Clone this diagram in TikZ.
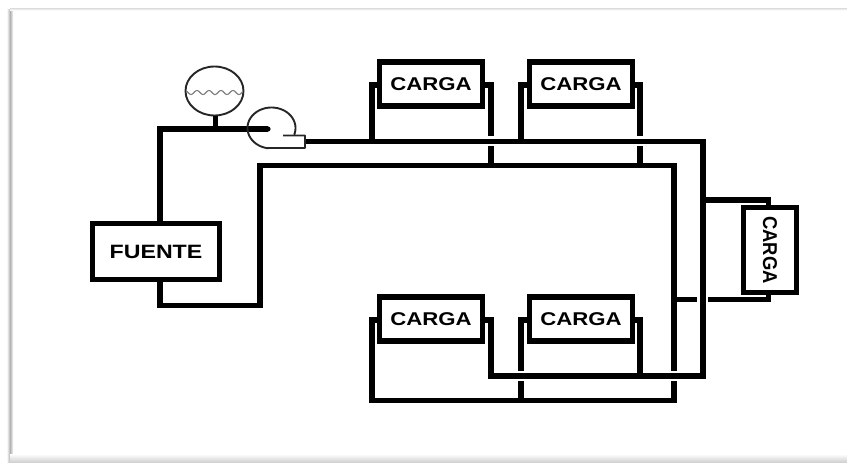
\documentclass[tikz,border=0pt]{standalone}
\usepackage{fontspec}
\newfontfamily\labfont[FakeStretch=1.2]{Liberation Sans}
\newfontfamily\sidefont[FakeStretch=0.92]{Liberation Sans}
\usetikzlibrary{shapes.geometric}
\tikzset{
  wire/.style={line width=5.2pt,line join=miter,line cap=butt},
  thin line/.style={line width=1.9pt,black!85},
  loadbox/.style={draw,line width=5.2pt,outer sep=0pt,inner sep=0pt,fill=white,minimum width=103pt,minimum height=44pt,font=\labfont\bfseries\fontsize{18.5}{20}\selectfont}
}
\begin{document}
\begin{tikzpicture}[x=1pt,y=-1pt]
\path[use as bounding box,fill=white] (0,0) rectangle (847,463);
% soft page frame
\fill[left color=black!3,right color=black!30] (7,9) rectangle (10,463);
\fill[left color=black!30,right color=black!4] (10,9) rectangle (13,463);
\fill[bottom color=black!2,top color=black!14] (10,8) rectangle (847,10);
\fill[top color=white,bottom color=black!20] (10,454) rectangle (847,463);
% junction coordinates
\coordinate (supply) at (305,141.5);
\coordinate (sr) at (703,141.5);
\coordinate (sb) at (703,376);
\coordinate (rl) at (260,165.5);
\coordinate (rr) at (674,165.5);
\coordinate (rg) at (674,371);
\coordinate (rh) at (674,381);
\coordinate (f1) at (160,129);
\coordinate (pin) at (268,129);
\coordinate (f2) at (160,305.5);
\coordinate (f3) at (260,305.5);
\coordinate (t1) at (215.5,129);
% load stubs
\coordinate (a1) at (372,85);   \coordinate (a1m) at (372,141.5);
\coordinate (a2) at (491,85);   \coordinate (a2g) at (491,136); \coordinate (a2h) at (491,146); \coordinate (a2r) at (491,165.5);
\coordinate (b1) at (521,85);   \coordinate (b1m) at (521,141.5);
\coordinate (b2) at (640,85);   \coordinate (b2g) at (640,136); \coordinate (b2h) at (640,146); \coordinate (b2r) at (640,165.5);
\coordinate (c1) at (372,320);  \coordinate (c1r) at (372,400.5);
\coordinate (c2) at (491,320);  \coordinate (c2m) at (491,376);
\coordinate (d1) at (521,320);  \coordinate (d1g) at (521,371); \coordinate (d1h) at (521,381); \coordinate (d1r) at (521,400.5);
\coordinate (d2) at (640,320);  \coordinate (d2m) at (640,376);
\coordinate (rb) at (674,400.5);
\coordinate (e1m) at (703,200);  \coordinate (e1) at (768.5,200); \coordinate (e1b) at (768.5,210);
\coordinate (e2r) at (674,299.5); \coordinate (e2g) at (697,299.5); \coordinate (e2h) at (708,299.5); \coordinate (e2) at (768.5,299.5); \coordinate (e2b) at (768.5,290);
% load and source boxes
\node[loadbox] (L1) at (431,84) {CARGA};
\node[loadbox] (L2) at (581,84) {CARGA};
\node[loadbox] (L3) at (431,319) {CARGA};
\node[loadbox] (L4) at (581,319) {CARGA};
\node[loadbox,rotate=-90,minimum width=85pt,minimum height=53pt,font=\sidefont\bfseries\fontsize{20}{22}\selectfont] (L5) at (770,250) {CARGA};
\node[loadbox,minimum width=127pt,minimum height=56pt,font=\labfont\bfseries\fontsize{19.3}{21}\selectfont] (F) at (156,251.5) {FUENTE};
% wires
\draw[wire] (supply) -- (sr) -- (sb) -- (c2m) -- (c2) -- (L3.east |- c2);
\draw[wire] (F.south -| f2) -- (f2) -- (f3) -- (rl) -- (rr) -- (rg);
\draw[wire] (rh) -- (rb) -- (c1r) -- (c1) -- (L3.west |- c1);
\draw[wire] (d1g) -- (d1) -- (L4.west |- d1);
\draw[wire] (d1h) -- (d1r);
\draw[wire] (d2m) -- (d2) -- (L4.east |- d2);
\draw[wire] (a1m) -- (a1) -- (L1.west |- a1);
\draw[wire] (a2g) -- (a2) -- (L1.east |- a2);
\draw[wire] (a2h) -- (a2r);
\draw[wire] (b1m) -- (b1) -- (L2.west |- b1);
\draw[wire] (b2g) -- (b2) -- (L2.east |- b2);
\draw[wire] (b2h) -- (b2r);
\draw[wire] (e1m) -- (e1) -- (e1b);
\draw[wire] (e2r) -- (e2g);
\draw[wire] (e2h) -- (e2) -- (e2b);
\draw[wire] (F.north -| f1) -- (f1) -- (pin);
% expansion tank
\node[draw,ellipse,thin line,minimum width=58pt,minimum height=49pt,inner sep=0pt] (tank) at (214.5,91) {};
\draw[wire] (t1 |- tank.south) -- (t1);
\draw[line width=1.1pt,black!50] plot[domain=187:243,samples=70,smooth] (\x,{92.5-2*cos(30*(\x-197))});
% pump
\coordinate (pa) at (283,135.5);
\coordinate (pb) at (305,135.5);
\coordinate (pc) at (305,148);
\draw[thin line,line join=round] plot[domain=-18:258,samples=60,smooth] ({271.5+24*cos(\x)},{128-20.5*sin(\x)}) -- (pc) -- (pb) -- (pa);
\fill (pin) circle (2.6);
\end{tikzpicture}
\end{document}
